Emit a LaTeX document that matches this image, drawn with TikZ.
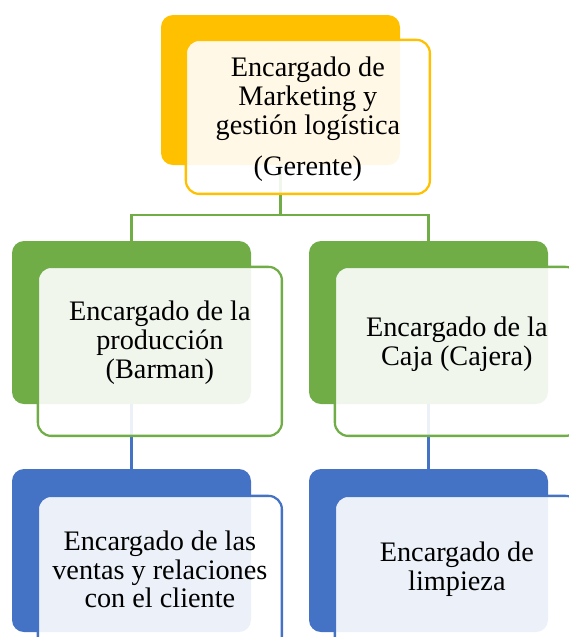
\documentclass[tikz,border=0pt]{standalone}
\usepackage{fontspec}
\setmainfont{Liberation Serif}
\usetikzlibrary{positioning}
\definecolor{gold}{RGB}{255,192,0}
\definecolor{leaf}{RGB}{112,173,71}
\definecolor{ocean}{RGB}{68,114,196}

\begin{document}
\begin{tikzpicture}[x=0.75pt, y=-0.75pt,
  backbox/.style={fill=#1, rounded corners=9pt, inner sep=0pt,
    minimum width=179.25pt, minimum height=122.25pt},
  frontbox/.style={draw=#1, line width=1.7pt, fill=white, fill opacity=0.9,
    rounded corners=10pt, inner sep=0pt, anchor=north west,
    minimum width=183pt, minimum height=126.75pt},
  boxtext/.style={align=center, inner sep=0pt, font=\fontsize{21.2}{21.6}\selectfont},
  link/.style={line width=1.6pt}]

  % Page: 569 x 637 px
  \useasboundingbox (0,0) rectangle (569,637);
  \clip (0,0) rectangle (569,637);

  % Back boxes
  \node[backbox=gold, minimum height=112.5pt] (mgrB) at (280.5,90) {};
  \node[backbox=leaf]  (prodB) at (131.5,322.5) {};
  \node[backbox=leaf]  (cajaB) at (428.5,322.5) {};
  \node[backbox=ocean] (ventB) at (131.5,550.5) {};
  \node[backbox=ocean] (limpB) at (428.5,550.5) {};

  % Connectors (they run behind the front boxes)
  \draw[link, leaf] (mgrB.south) -- ++(0,50) coordinate (fork) -| (prodB.north);
  \draw[link, leaf] (fork) -| (cajaB.north);
  \draw[link, ocean] (prodB.south) -- (ventB.north);
  \draw[link, ocean] (cajaB.south) -- (limpB.north);

  % Front boxes
  \node[frontbox=gold, minimum height=115.5pt] (mgrF) at ([xshift=18pt, yshift=-18pt]mgrB.north west) {};
  \node[frontbox=leaf]  (prodF) at ([xshift=18.75pt, yshift=-18.75pt]prodB.north west) {};
  \node[frontbox=leaf]  (cajaF) at ([xshift=18.75pt, yshift=-18.75pt]cajaB.north west) {};
  \node[frontbox=ocean] (ventF) at ([xshift=18.75pt, yshift=-19.5pt]ventB.north west) {};
  \node[frontbox=ocean] (limpF) at ([xshift=18.75pt, yshift=-19.5pt]limpB.north west) {};

  % Texts
  \node[boxtext] (mgrT) at ([yshift=-2pt]mgrF.center) {Encargado de\\Marketing y\\gestión logística\\[9.4pt](Gerente)};
  \node[boxtext] (prodT) at ([yshift=6.4pt]prodF.center) {Encargado de la\\producción\\(Barman)};
  \node[boxtext] (cajaT) at ([yshift=5.6pt]cajaF.center) {Encargado de la\\Caja (Cajera)};
  \node[boxtext] (ventT) at ([yshift=8.25pt]ventF.center) {Encargado de las\\ventas y relaciones\\con el cliente};
  \node[boxtext] (limpT) at ([yshift=8.25pt]limpF.center) {Encargado de\\limpieza};

\end{tikzpicture}
\end{document}
